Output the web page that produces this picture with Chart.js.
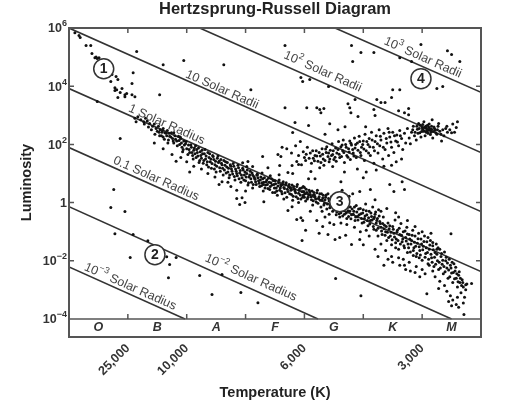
<!DOCTYPE html>
<html>
<head>
<meta charset="utf-8">
<title>Hertzsprung-Russell Diagram</title>
<script src="https://cdn.jsdelivr.net/npm/chart.js@4"></script>
<style>
  html, body { margin: 0; padding: 0; background: #fff; }
  #wrap { width: 507px; height: 405px; filter: blur(0.35px); }
</style>
</head>
<body>
<div id="wrap"><canvas id="hr"></canvas></div>
<script>
// x = position along the spectral sequence (O=0..1, B=1..2 ...), y = log10 luminosity
const spectralClasses = ['O', 'B', 'A', 'F', 'G', 'K', 'M'];
const spectralPos = [0.5, 1.5, 2.5, 3.5, 4.5, 5.5, 6.5];
const tempTickPos = [1, 2, 3, 4, 5, 6];
const tempTickLabels = ['25,000', '10,000', '', '6,000', '', '3,000'];
const lumTicks = [6, 4, 2, 0, -2, -4];
const lumBase = ['10', '10', '10', '1', '10', '10'];
const lumPower = ['6', '4', '2', '', '−2', '−4'];

// constant radius lines, end points
const radius1e3X = [0, 1.97], radius1e3Y = [-2.21, -4];
const radius1e2X = [0, 4.23], radius1e2Y = [-0.14, -4];
const radius01X = [0, 6.5], radius01Y = [1.89, -4];
const radius1X = [0, 7], radius1Y = [3.92, -2.37];
const radius10X = [0, 7], radius10Y = [6, -0.31];
const radius100X = [2.22, 7], radius100Y = [6, 1.72];
const radius1000X = [4.52, 7], radius1000Y = [6, 3.79];

const lineLabelBase = ['10 Solar Radii', '10', '10', '1 Solar Radius', '0.1 Solar Radius', '10', '10'];
const lineLabelPower = ['', '2', '3', '', '', '−2', '−3'];
const lineLabelRest = ['', ' Solar Radii', ' Solar Radii', '', '', ' Solar Radius', ' Solar Radius'];
const lineLabelX = [2.6, 4.31, 6.01, 1.66, 1.48, 3.09, 1.04];
const lineLabelY = [3.88, 4.5, 4.98, 2.68, 0.82, -2.58, -2.89];

const regionNames = ['1', '2', '3', '4'];
const regionX = [0.59, 1.46, 4.6, 5.98];
const regionY = [4.6, -1.79, 0.03, 4.26];

// stars
const supergiants = [[.10,5.84],[.17,5.74],[.19,5.67],[.29,5.4],[.37,5.4],[.39,5.12],[.44,4.98],[.46,5.0],[.48,4.95],[.51,4.98],
[1.15,5.19],[1.6,4.74],[1.95,4.88],[2.63,4.74],[1.09,4.46],[1.07,4.09],[.73,4.4],[.8,4.33],[.83,4.23],[.71,4.16],[.78,3.95],[.81,3.88],[.9,3.92],[.78,3.85],[.87,3.78],[.95,3.71],[.98,3.75],[1.07,3.71],[1.12,3.64],[.83,3.61],[.95,3.64],[.48,3.47],[1.54,3.71],[1.14,2.78],[.87,2.2],[.76,.45],
[3.09,3.88],[3.67,5.4],[4.8,5.4],[4.96,5.16],[5.18,5.16],[4.82,4.85],[5.98,5.43],[6.43,5.22],[6.5,5.09],[6.64,4.85],[6.25,3.92],[6.35,3.99],[5.62,4.98],[5.82,4.85],
[3.94,4.3],[3.97,4.16],[4.09,4.23],[4.41,3.99],[5.5,3.88],[5.48,3.61],[5.62,3.88],[5.23,3.54],[5.3,3.44],[5.37,3.44],[4.77,3.26],[4.74,3.4],[4.86,3.54],[5.18,3.2],[5.2,2.99],[5.6,3.16],[5.7,3.09],[5.77,3.02],[5.77,3.23],
[3.67,3.26],[4.04,3.26],[4.21,3.26],[4.26,3.2],[4.33,3.23],[4.28,3.09],[4.79,3.09],[4.91,2.96],[3.84,2.75],[4.07,2.65],[4.69,2.61],[4.43,2.71],[5.04,2.61],[3.8,2.41],[4.57,2.5],[4.35,2.35]];

const giants = [[3.29,1.58],[3.55,1.65],[3.6,1.58],[3.58,1.27],[3.38,1.2],[3.79,1.27],[3.87,1.41],[3.9,1.31],[3.72,1.03],[3.8,1.0],[3.57,.96],[4.11,1.07],[4.07,.82],[4.18,.82],[4.26,1.2],[4.48,1.24],[2.95,1.37],[3.04,1.41],[3.12,1.24],[3.02,1.24],[3.2,.98],[3.28,1.02],[3.42,.92],[3.12,.95],
[3.7,1.85],[3.78,1.7],[3.62,1.9],[3.85,1.95],[3.93,2.1],[3.98,1.75],[3.9,1.62],[4.0,1.55],[4.05,1.9],[4.1,1.7],[4.15,1.52],[4.12,1.35],[4.18,1.62],[4.02,1.45],[3.95,1.3],[4.2,1.78],[4.23,1.42],[4.27,1.6],[4.3,1.85],[4.32,1.5],[4.33,1.28],[4.37,1.72],[4.38,1.92],[4.4,1.58],[4.42,1.4],[4.44,1.8],[4.47,2.02],[4.48,1.65],[4.5,1.48],[4.53,1.88],[4.55,1.7],[4.58,2.1],[4.6,1.55],[4.62,1.92],[4.65,1.78],[4.66,2.15],[4.68,1.38],[4.7,2.0],[4.72,1.62],[4.75,1.85],[4.77,2.12],[4.78,1.48],[4.8,1.98],[4.83,1.7],[4.85,2.22],[4.86,1.88],[4.88,1.55],[4.9,2.05],[4.93,2.28],[4.95,1.72],[4.97,1.9],[5.0,2.12],[5.02,1.45],[5.03,2.35],[5.05,1.78],[5.08,2.0],[5.1,2.2],[5.12,1.62],[5.14,2.42],[5.17,1.9],[5.18,1.35],[5.2,2.1],[5.22,2.3],[5.25,1.7],[5.27,2.5],[5.28,1.95],[5.3,2.15],[5.33,1.5],[5.35,2.38],[5.37,1.82],[5.4,2.05],[5.42,2.55],[5.43,1.62],[5.45,2.25],[5.48,1.9],[5.5,2.42],[5.52,1.72],[5.55,2.12],[5.57,2.32],[5.6,1.95],[5.62,2.48],[5.65,2.2],[5.67,1.82],[5.7,2.38],[5.72,2.05],[5.75,2.55],[5.78,2.22],[5.8,2.02],[5.82,2.42],[5.85,2.62],[5.87,2.3],[5.9,2.15],[5.92,2.52],[5.94,2.72],[5.96,2.4],[5.98,2.25],[6.0,2.58],[6.02,2.45],[6.03,2.78],[6.05,2.3],[6.06,2.62],[6.08,2.5],[6.1,2.38],[6.12,2.7],[6.13,2.55],[6.15,2.42],[6.17,2.85],[6.18,2.22],[6.2,2.6],[6.22,2.5],[6.25,2.35],[6.28,2.72],[6.3,2.45],[6.33,2.12],[6.37,2.3],[6.4,2.55],[6.43,2.42],[6.47,2.5],[6.52,2.7],[6.55,2.42],[6.58,2.58],[6.6,2.78],
[4.9,1.15],[5.05,1.05],[5.22,1.12],[5.35,1.25],[4.68,1.05],[5.56,1.4],[5.48,1.28],[5.65,1.5],[5.45,.62],[5.66,.72],[5.7,.45],[5.52,.38],[5.12,.45],[4.62,.72],[5.0,.85],[3.98,.55],[3.6,.62],[5.2,.1]];

const giantsDense = [[4.03,1.66],[4.08,1.52],[4.14,1.78],[4.17,1.44],[4.21,1.6],[4.25,1.72],[4.28,1.38],[4.31,1.66],[4.35,1.45],[4.36,1.84],[4.41,1.7],[4.43,1.5],[4.46,1.62],[4.49,1.78],[4.52,1.56],[4.54,1.42],[4.57,1.82],[4.59,1.66],[4.63,1.58],[4.64,1.98],[4.67,1.72],[4.71,1.9],[4.74,1.56],[4.76,1.74],[4.79,2.04],[4.82,1.82],[4.84,1.6],[4.87,2.0],[4.91,1.8],[4.94,2.1],[4.96,1.62],[4.99,2.0],[5.01,1.84],[5.06,2.1],[5.09,1.7],[5.11,1.92],[5.15,2.15],[5.19,1.78],[5.24,2.02],[5.29,2.28],[5.34,1.9],[5.39,2.2],[5.44,2.42],[5.47,2.08],[5.53,2.3],[5.58,2.08],[5.63,2.3],
[5.84,2.5],[5.88,2.42],[5.91,2.62],[5.93,2.38],[5.95,2.55],[5.97,2.66],[5.99,2.44],[6.01,2.52],[6.01,2.68],[6.04,2.46],[6.04,2.58],[6.07,2.42],[6.07,2.56],[6.09,2.66],[6.09,2.46],[6.11,2.5],[6.11,2.6],[6.14,2.48],[6.14,2.34],[6.16,2.52],[6.16,2.62],[6.19,2.44],[6.21,2.55],[6.23,2.4],[6.26,2.5],[6.27,2.62],[6.32,2.35],[6.35,2.5],[6.42,2.62],[6.5,2.4]];

const mainSeqUpper = [[1.12,2.9],[1.17,2.95],[1.22,2.85],[1.27,2.78],[1.3,2.9],[1.28,2.7],[1.33,2.8],[1.37,2.72],[1.35,2.6],[1.42,2.62],[1.45,2.7],[1.4,2.5],[1.48,2.55],[1.5,2.45],[1.46,2.35],[1.52,2.62],[1.55,2.5],[1.58,2.42],[1.54,2.3],[1.6,2.55],[1.63,2.4],[1.6,2.25],[1.67,2.48],[1.66,2.3],[1.7,2.38],[1.73,2.25],[1.69,2.15],[1.78,2.4],[1.76,2.2],[1.8,2.3],[1.83,2.12],[1.78,2.05],[1.86,2.28],[1.9,2.2],[1.88,2.0],[1.92,1.9],[1.95,2.12],[1.98,2.02],[1.93,1.75],[2.0,1.85],[2.03,1.98],[2.05,1.72],[2.08,1.9],[2.1,1.62],[2.12,1.8],[2.15,1.95],[2.16,1.55],[2.18,1.72],[2.2,1.88],[2.22,1.45],[2.24,1.62],[2.26,1.8],[2.28,1.35],[1.45,2.05],[1.75,1.65],[1.6,1.85],[1.9,1.55],[2.0,1.4],[2.12,1.25],[2.25,1.15],[2.05,1.05],[1.82,1.42],[2.3,1.68],[2.32,1.5],[2.34,1.3],[2.36,1.72],[2.38,1.55],[2.4,1.4],[2.42,1.18],[2.44,1.62],[2.46,1.48],[2.48,1.3],[2.5,1.05],[2.52,1.52],[2.54,1.38],[2.56,1.2],[2.58,1.48],[2.6,1.3],[2.62,.95],[2.64,1.12],[2.66,1.4],[2.68,1.22],[2.7,1.05],[2.72,.85],[2.74,1.3],[2.76,1.15],[2.78,.98],[2.8,1.25],[2.82,.78],[2.84,1.08],[2.86,.92],[2.88,1.2],[2.9,1.02],[2.92,.7],[2.94,.85],[2.96,1.12],[2.98,.95],[3.0,.75],[3.02,1.0],[3.04,.6],[3.06,.88],[3.08,1.08],[3.1,.7],[3.12,.5],[3.14,.9],[3.16,.8],[3.18,.62],[2.75,.55],[2.6,.72],[2.48,.88],[2.85,.42],[3.0,.4],[2.36,1.0],[2.7,.7],[2.55,.62]];

const upperDense = [[1.53,2.42],[1.57,2.3],[1.59,2.48],[1.62,2.18],[1.65,2.38],[1.68,2.05],[1.71,2.28],[1.74,2.4],[1.77,2.12],[1.81,2.18],[1.84,1.95],[1.87,2.13],[1.89,2.25],[1.91,2.05],[1.94,1.82],[1.96,1.98],[1.99,2.1],[2.02,1.65],[2.04,1.82],[2.07,1.98],[2.09,1.72],[2.11,1.5],[2.13,1.88],[2.14,1.68],[2.17,1.82],[2.19,1.6],[2.21,1.38],[2.23,1.75],[2.25,1.52],[2.27,1.68],[2.29,1.45],[2.31,1.82],[2.33,1.6],[2.35,1.4],[2.37,1.22],[2.39,1.68],[2.41,1.5],[2.43,1.34],[2.45,1.58],[2.47,1.15],[2.49,1.42],[2.51,1.25],[2.53,1.6],[2.55,1.42],[2.57,1.08],[2.59,1.35],[2.61,1.18],[2.63,1.45],[2.65,1.28],[2.67,1.02],[2.69,1.38],[2.71,1.18],[2.73,.95],[2.75,1.25],[2.77,1.08],[2.79,1.34],[2.81,.9],[2.83,1.15],[2.85,1.0],[2.87,1.28],[2.89,.82],[2.91,1.1],[2.93,.95],[2.95,1.18],[2.97,.78],[2.99,1.05],[3.01,.88],[3.03,1.12],[3.05,.68],[3.07,.95],[3.09,.82],[3.11,1.02],[3.13,.62],[3.15,.85],[3.17,.72],[3.19,.95]];

const mainSeqMiddle = [[3.2,.95],[3.22,.75],[3.24,.55],[3.26,.88],[3.28,.68],[3.3,.4],[3.32,.85],[3.34,.6],[3.36,.78],[3.38,.48],[3.4,.7],[3.42,.55],[3.44,.82],[3.46,.35],[3.48,.62],[3.5,.75],[3.52,.5],[3.54,.25],[3.56,.68],[3.58,.42],[3.6,.58],[3.62,.3],[3.64,.72],[3.66,.48],[3.68,.6],[3.7,.18],[3.72,.38],[3.74,.62],[3.76,.5],[3.78,.28],[3.8,.08],[3.82,.55],[3.84,.4],[3.86,.2],[3.88,.62],[3.9,.32],[3.92,.48],[3.94,.12],[3.96,.38],[3.98,.25],[4.0,.52],[4.02,.05],[4.04,.35],[4.06,.18],[4.08,.42],[4.1,.28],[4.12,.1],[4.14,-.08],[4.16,.35],[4.18,.2],[4.2,.02],[4.22,.42],[4.24,.15],[4.26,.3],[4.28,-.15],[4.3,.08],[4.32,.25],[4.34,-.02],[4.36,.18],[4.38,-.22],[4.4,.3],[4.42,.05],[4.44,-.1],[4.46,.2],[4.48,-.3],[4.5,-.05],[4.52,-.18],[4.54,-.42],[4.56,-.28],[4.58,-.12],[4.6,-.5],[4.62,-.35],[4.64,.42],[4.66,-.2],[4.68,-.4],[4.7,-.08],[4.72,-.55],[4.74,-.28],[4.76,.22],[4.78,-.15],[4.8,-.42],[4.82,.3],[4.84,-.3],[4.86,-.62],[4.88,-.1],[4.9,-.48],[4.92,-.22],[4.94,.38],[4.96,-.38],[4.98,-.7],[5.0,-.25],[5.02,-.55],[5.04,-.05],[5.06,-.42],[5.08,-.8],[5.1,-.3],[5.12,-.62],[5.14,-.48],[5.16,-.15],[5.18,-.92],[5.2,-.4],[5.22,-.7],[5.24,-.55],[5.26,-.25],
[3.3,.62],[3.5,.35],[3.65,.12],[3.78,.45],[3.9,.0],[4.0,.18],[4.15,.25],[4.3,-.3],[4.42,-.4],[4.55,.05],[4.72,-.75],[4.85,-.85],[4.95,-1.0],[5.05,-.95],[4.62,-.7],[4.35,-.5],[4.1,-.3],
[2.85,.14],[2.94,.17],[2.99,0],[2.9,-.07],[3.31,.03],[3.72,-.27],[3.79,-.14],[3.87,-.58],[3.94,-.52],[3.97,-.62],[4.21,-.62],[4.31,-.82],[4.43,-.69],[4.5,-.75],[4.8,-1.44],[4.94,-1.27],[4.52,-1.27],[4.6,-1.2],[3.96,-1.3],[4.02,-.95],[4.25,-1.05],[4.4,-1.1],[4.7,-1.12],[5.0,-1.45],[5.1,-1.15]];

const middleDense = [[3.21,.85],[3.23,.66],[3.25,.78],[3.27,.58],[3.29,.82],[3.31,.7],[3.33,.5],[3.35,.72],[3.37,.62],[3.39,.84],[3.41,.45],[3.43,.68],[3.45,.6],[3.47,.76],[3.49,.5],[3.51,.65],[3.53,.4],[3.55,.57],[3.57,.78],[3.59,.5],[3.61,.38],[3.63,.62],[3.65,.52],[3.67,.34],[3.69,.68],[3.71,.46],[3.73,.54],[3.75,.3],[3.77,.42],[3.79,.6],[3.81,.22],[3.83,.46],[3.85,.34],[3.87,.55],[3.89,.14],[3.91,.42],[3.93,.26],[3.95,.5],[3.97,.18],[3.99,.38],[4.01,.3],[4.03,.46],[4.05,.12],[4.07,.28],[4.09,.36],[4.11,.2],[4.13,.4],[4.15,.06],[4.17,.26],[4.19,.12],[4.21,.34],[4.23,-.02],[4.25,.2],[4.27,.08],[4.29,.3],[4.31,.16],[4.33,-.08],[4.35,.1],[4.37,.26],[4.39,-.05],[4.41,.14],[4.43,-.18],[4.45,.06],[4.47,-.12],[4.49,.12],[4.51,-.25],[4.53,-.02],[4.55,-.32],[4.57,-.14],[4.59,-.38],[4.61,-.2],[4.63,-.05],[4.65,-.46],[4.67,-.28],[4.69,-.12],[4.71,-.36],[4.73,-.18],[4.75,-.48],[4.77,-.3],[4.79,-.56],[4.81,-.22],[4.83,-.4],[4.85,-.15],[4.87,-.5],[4.89,-.32],[4.91,-.6],[4.93,-.42],[4.95,-.2],[4.97,-.55],[4.99,-.36],[5.01,-.68],[5.03,-.46],[5.05,-.28],[5.07,-.62],[5.09,-.52],[5.11,-.74],[5.13,-.36],[5.15,-.6],[5.17,-.82],[5.19,-.5],[5.21,-.32],[5.23,-.62],[5.25,-.88],[5.27,-.46],[5.29,-.72]];

const mainSeqLower = [[5.18,-.55],[5.22,-.95],[5.25,-1.15],[5.28,-.65],[5.3,-.85],[5.32,-1.1],[5.34,-.5],[5.36,-.78],[5.38,-1.0],[5.4,-1.3],[5.42,-.7],[5.44,-.9],[5.46,-1.15],[5.48,-1.45],[5.5,-.82],[5.52,-1.05],[5.54,-.6],[5.56,-1.25],[5.58,-.95],[5.6,-1.6],[5.62,-1.1],[5.64,-.72],[5.66,-1.35],[5.68,-1.0],[5.7,-1.55],[5.72,-1.2],[5.74,-.85],[5.76,-1.42],[5.78,-1.1],[5.8,-1.7],[5.82,-1.3],[5.84,-.95],[5.86,-1.55],[5.88,-1.15],[5.9,-1.85],[5.92,-1.4],[5.94,-1.05],[5.96,-1.65],[5.98,-1.25],[6.0,-1.98],[6.02,-1.5],[6.04,-1.15],[6.06,-1.75],[6.08,-1.35],[6.1,-2.1],[6.12,-1.6],[6.14,-1.3],[6.16,-1.9],[6.18,-1.48],[6.2,-2.2],[6.22,-1.72],[6.24,-1.42],[6.26,-2.0],[6.28,-2.3],[6.3,-1.6],[6.32,-1.85],[6.34,-2.12],[6.36,-2.45],[6.38,-1.7],[6.4,-2.0],[6.42,-2.25],[6.44,-2.6],[6.46,-1.95],[6.48,-2.15],[6.5,-2.42],[6.52,-2.75],[6.54,-2.1],[6.56,-2.35],[6.58,-2.6],[6.6,-2.9],[6.62,-2.5],[6.64,-2.75],[6.66,-3.1],[6.68,-2.65],[6.7,-2.9],[6.72,-3.25],[6.74,-3.0],[6.76,-2.8],
[5.95,-1.9],[5.85,-1.82],[5.75,-1.72],[5.68,-1.95],[5.6,-1.9],[5.78,-2.05],[5.9,-2.2],[6.0,-2.3],[6.05,-2.45],[6.12,-2.15],[6.18,-2.35],[6.22,-2.55],[6.3,-2.7],[6.38,-2.85],[6.42,-3.05],[6.48,-3.2],[6.52,-3.35],[6.58,-3.5],[6.62,-3.6],[6.45,-3.4],[6.5,-3.55],[6.6,-3.25],[6.7,-3.45],[6.28,-2.95],[5.72,-2.3],[5.7,-2.15],[5.62,-2.15],[5.8,-2.35],[5.88,-2.4],[5.96,-2.55],[5.48,-1.85],[5.38,-1.65],[5.3,-1.42],[5.55,-1.55],[5.42,-1.95],[5.35,-2.15],[5.25,-1.85],[5.2,-1.6],[5.5,-2.05],
[6.18,-1.37],[6.1,-1.2],[6.0,-1.0],[5.88,-.82],[5.75,-.62],[5.55,-.35],[5.4,-.2],[5.3,-.3],[6.25,-1.6],[6.15,-1.05],[5.6,-.5]];

const lowerDense = [[5.31,-.98],[5.33,-.72],[5.35,-.9],[5.37,-1.12],[5.39,-.82],[5.41,-1.02],[5.43,-1.2],[5.45,-.8],[5.47,-1.02],[5.49,-1.28],[5.51,-.92],[5.53,-1.18],[5.55,-1.38],[5.57,-1.02],[5.59,-1.3],[5.61,-.88],[5.63,-1.42],[5.65,-1.12],[5.67,-1.25],[5.69,-1.48],[5.71,-.98],[5.73,-1.32],[5.75,-1.08],[5.77,-1.55],[5.79,-1.25],[5.81,-1.42],[5.83,-1.12],[5.85,-1.65],[5.87,-1.36],[5.89,-1.5],[5.91,-1.75],[5.93,-1.24],[5.95,-1.52],[5.97,-1.8],[5.99,-1.42],[6.01,-1.62],[6.03,-1.34],[6.05,-1.88],[6.07,-1.55],[6.09,-1.72],[6.11,-1.95],[6.13,-1.46],[6.15,-1.78],[6.17,-2.05],[6.19,-1.62],[6.21,-1.88],[6.23,-2.12],[6.25,-1.78],[6.27,-1.55],[6.29,-2.05],[6.31,-2.25],[6.33,-1.75],[6.35,-1.98],[6.37,-2.2],[6.39,-2.38],[6.41,-1.88],[6.43,-2.08],[6.45,-2.32],[6.47,-2.55],[6.49,-2.25],[6.51,-2.05],[6.53,-2.4],[6.55,-2.62],[6.57,-2.22],[6.59,-2.45],[6.61,-2.72],[6.63,-2.38],[6.65,-2.6],[6.67,-2.85],[6.69,-2.75]];

const whiteDwarfs = [[.71,-.17],[.95,-.31],[.78,-1.07],[1.09,-1.1],[1.34,-1.31],[1.04,-1.89],[1.66,-1.86],[1.82,-1.89],[1.71,-2.13],[1.69,-2.58],[2.22,-2.51],[2.6,-2.47],[2.43,-3.16],[2.92,-3.09],[3.21,-3.44],[4.53,-2.61],[4.96,-3.2],[6.49,-1.07],[6.74,-2.82],[6.84,-2.78],[6.08,-3.13],[6.71,-3.85]];

const bandFloor = -4.62;

function zip(xs, ys) { return xs.map((x, i) => ({ x: x, y: ys[i] })); }
function pairs(list) { return list.map(p => ({ x: p[0], y: p[1] })); }

const lineColor = '#333';
const frameColor = '#555';
const fontFamily = '"Liberation Sans"';
function radiusLine(xs, ys) {
  return { type: 'line', data: zip(xs, ys), borderColor: lineColor, borderWidth: 1.6, pointRadius: 0, order: 3 };
}
function dots(list) {
  return { type: 'scatter', data: pairs(list), backgroundColor: '#111', borderWidth: 0, pointRadius: 1.5, order: 2 };
}

// text with a raised power, starting at x0
function powerWidth(ctx, base, power, rest, size, style) {
  ctx.font = style + ' ' + size + 'px ' + fontFamily;
  let w = ctx.measureText(base).width + ctx.measureText(rest).width;
  ctx.font = style + ' ' + (size * 0.72) + 'px ' + fontFamily;
  return w + ctx.measureText(power).width;
}
function drawPower(ctx, base, power, rest, x0, y0, size, style) {
  ctx.textAlign = 'left';
  ctx.font = style + ' ' + size + 'px ' + fontFamily;
  ctx.fillText(base, x0, y0);
  let cx = x0 + ctx.measureText(base).width;
  ctx.font = style + ' ' + (size * 0.72) + 'px ' + fontFamily;
  ctx.fillText(power, cx, y0 - size * 0.4);
  cx += ctx.measureText(power).width;
  ctx.font = style + ' ' + size + 'px ' + fontFamily;
  ctx.fillText(rest, cx, y0);
}

// inside tick marks, spectral strip, rotated labels and region numbers
const decorations = {
  id: 'decorations',
  afterDatasetsDraw(chart) {
    const ctx = chart.ctx, a = chart.chartArea;
    const x = chart.scales.x, y = chart.scales.y;
    const y4 = y.getPixelForValue(-4);
    ctx.save();
    ctx.strokeStyle = frameColor;
    ctx.lineWidth = 1.5;
    ctx.beginPath();
    ctx.moveTo(a.left, y4); ctx.lineTo(a.right, y4);
    tempTickPos.forEach(t => {
      const px = x.getPixelForValue(t);
      ctx.moveTo(px, a.top); ctx.lineTo(px, a.top + 5);
      ctx.moveTo(px, y4); ctx.lineTo(px, y4 - 5);
    });
    lumTicks.slice(1, 5).forEach(v => {
      const py = y.getPixelForValue(v);
      ctx.moveTo(a.left, py); ctx.lineTo(a.left + 5, py);
      ctx.moveTo(a.right, py); ctx.lineTo(a.right - 5, py);
    });
    ctx.stroke();
    ctx.lineWidth = 2;
    ctx.strokeRect(a.left, a.top, a.right - a.left, a.bottom - a.top);

    ctx.textAlign = 'center';
    ctx.textBaseline = 'middle';
    ctx.fillStyle = '#333';
    ctx.font = 'italic bold 12.5px ' + fontFamily;
    spectralClasses.forEach((c, i) => {
      ctx.fillText(c, x.getPixelForValue(spectralPos[i]), (y4 + a.bottom) / 2);
    });

    // luminosity tick labels
    lumTicks.forEach((v, i) => {
      const w = powerWidth(ctx, lumBase[i], lumPower[i], '', 12.5, 'bold');
      drawPower(ctx, lumBase[i], lumPower[i], '', a.left - 2 - w, y.getPixelForValue(v) + 1, 12.5, 'bold');
    });

    ctx.fillStyle = '#444';
    const angle = Math.atan2(y.getPixelForValue(0.9) - y.getPixelForValue(1.8), x.getPixelForValue(1) - x.getPixelForValue(0));
    lineLabelBase.forEach((t, i) => {
      const w = powerWidth(ctx, t, lineLabelPower[i], lineLabelRest[i], 12.5, 'normal');
      ctx.save();
      ctx.translate(x.getPixelForValue(lineLabelX[i]), y.getPixelForValue(lineLabelY[i]));
      ctx.rotate(angle);
      drawPower(ctx, t, lineLabelPower[i], lineLabelRest[i], -w / 2, 0, 12.5, 'normal');
      ctx.restore();
    });

    ctx.textAlign = 'center';
    ctx.fillStyle = '#222';
    ctx.font = 'bold 14px ' + fontFamily;
    regionNames.forEach((t, i) => {
      ctx.fillText(t, x.getPixelForValue(regionX[i]), y.getPixelForValue(regionY[i]) + 0.5);
    });
    ctx.restore();
  }
};

new Chart(document.getElementById('hr'), {
  data: {
    datasets: [
      radiusLine(radius1e3X, radius1e3Y),
      radiusLine(radius1e2X, radius1e2Y),
      radiusLine(radius01X, radius01Y),
      radiusLine(radius1X, radius1Y),
      radiusLine(radius10X, radius10Y),
      radiusLine(radius100X, radius100Y),
      radiusLine(radius1000X, radius1000Y),
      dots(supergiants),
      dots(giants),
      dots(giantsDense),
      dots(mainSeqUpper),
      dots(upperDense),
      dots(mainSeqMiddle),
      dots(middleDense),
      dots(mainSeqLower),
      dots(lowerDense),
      dots(whiteDwarfs),
      {
        type: 'scatter',
        data: zip(regionX, regionY),
        backgroundColor: '#fff',
        borderColor: '#333',
        borderWidth: 1.5,
        pointRadius: 10,
        order: 1
      }
    ]
  },
  plugins: [decorations],
  options: {
    responsive: true,
    maintainAspectRatio: false,
    animation: false,
    layout: { padding: { left: 0, right: 26, top: 0, bottom: 0 } },
    plugins: { legend: { display: false }, tooltip: { enabled: false } },
    scales: {
      x: {
        type: 'linear',
        min: 0,
        max: 7,
        grid: { display: false, drawTicks: false },
        border: { display: false },
        afterBuildTicks(s) { s.ticks = tempTickPos.map(v => ({ value: v })); },
        afterFit(s) { s.height = 68; },
        ticks: {
          autoSkip: false,
          minRotation: 45,
          maxRotation: 45,
          padding: 4,
          color: '#333',
          font: { family: 'Liberation Sans', size: 12.5, weight: 'bold' },
          callback: v => tempTickLabels[tempTickPos.indexOf(v)]
        },
        title: {
          display: true,
          text: 'Temperature (K)',
          color: '#222',
          font: { family: 'Liberation Sans', size: 14.5, weight: 'bold' },
          padding: { top: 0, bottom: 3 }
        }
      },
      top: {
        type: 'linear',
        position: 'top',
        min: 0,
        max: 7,
        grid: { display: false },
        border: { display: false },
        ticks: { display: false },
        afterFit(s) { s.height = 28; },
        title: {
          display: true,
          text: 'Hertzsprung-Russell Diagram',
          color: '#222',
          font: { family: 'Liberation Sans', size: 16.5, weight: 'bold' },
          padding: { top: 0, bottom: 0 }
        }
      },
      y: {
        type: 'linear',
        min: bandFloor,
        max: 6,
        grid: { display: false, drawTicks: false },
        border: { display: false },
        afterBuildTicks(s) { s.ticks = lumTicks.map(v => ({ value: v })); },
        afterFit(s) { s.width = 69; },
        ticks: { display: false },
        title: {
          display: true,
          text: 'Luminosity',
          color: '#222',
          font: { family: 'Liberation Sans', size: 14.5, weight: 'bold' },
          padding: { top: 18, bottom: 0 }
        }
      }
    }
  }
});
</script>
</body>
</html>
